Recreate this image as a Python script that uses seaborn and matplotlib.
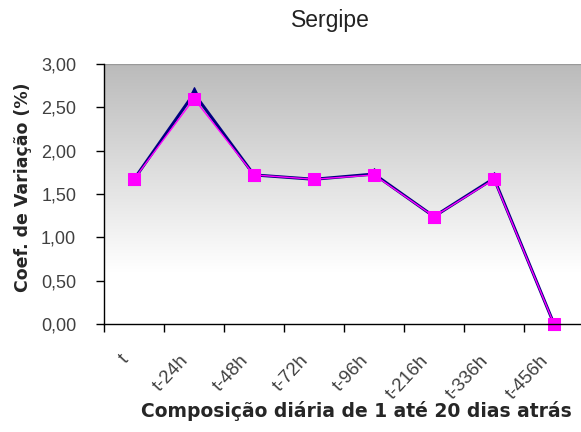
import numpy as np
import pandas as pd
import matplotlib.pyplot as plt
import seaborn as sns
from matplotlib.colors import LinearSegmentedColormap
from matplotlib.ticker import FuncFormatter, FixedLocator

# data
categorias = ['t', 't-24h', 't-48h', 't-72h', 't-96h', 't-216h', 't-336h', 't-456h']
serie_azul = [1.67, 2.66, 1.72, 1.67, 1.73, 1.24, 1.68, 0.00]
serie_rosa = [1.67, 2.60, 1.72, 1.67, 1.72, 1.24, 1.67, 0.00]

df = pd.DataFrame({
    'cat': list(range(len(categorias))) * 2,
    'cv': serie_azul + serie_rosa,
    'serie': ['azul'] * len(categorias) + ['rosa'] * len(categorias),
})

sns.set_style('white')
plt.rcParams['font.family'] = ['Liberation Sans', 'DejaVu Sans']

fig = plt.figure(figsize=(5.81, 4.32), dpi=100)
ax = fig.add_axes([104 / 581, 1 - 324 / 432, 480 / 581, 260 / 432])

# gray-to-white gradient like the excel plot area
grad = np.linspace(0, 1, 256).reshape(-1, 1)
cmap = LinearSegmentedColormap.from_list('g', [(0, '#bbbbbb'), (0.8, '#ffffff'), (1, '#ffffff')])
ax.imshow(grad, cmap=cmap, extent=[0, 1, 0, 1], transform=ax.transAxes,
          aspect='auto', origin='upper', zorder=0)

sns.lineplot(data=df[df.serie == 'azul'], x='cat', y='cv', ax=ax, color='#000080',
             marker='^', markersize=8, markeredgecolor='#000080', linewidth=2.2, zorder=3)
sns.lineplot(data=df[df.serie == 'rosa'], x='cat', y='cv', ax=ax, color='#ff00ff',
             marker='s', markersize=8, markeredgecolor='#ff00ff', linewidth=1.0, zorder=4)
for ln in ax.lines:
    ln.set_clip_on(False)

ax.set_xlim(-0.5, 7.5)
ax.set_ylim(0, 3)
ax.set_yticks(np.arange(0, 3.01, 0.5))
ax.yaxis.set_major_formatter(FuncFormatter(lambda v, p: f'{v:.2f}'.replace('.', ',')))
ax.xaxis.set_major_locator(FixedLocator(np.arange(-0.5, 7.6, 1)))
ax.set_xticklabels([])
for i, c in enumerate(categorias):
    ax.text(i - 0.24, -0.32, c, rotation=47, ha='right', va='top',
            rotation_mode='anchor', fontsize=13.5, color='#404040')

ax.tick_params(axis='both', direction='out', length=6, width=1, color='black',
               bottom=True, left=True, labelsize=13, labelcolor='#404040')
ax.tick_params(axis='y', pad=14)
for side in ['top', 'right']:
    ax.spines[side].set_visible(False)
for side in ['left', 'bottom']:
    ax.spines[side].set_color('black')
    ax.spines[side].set_linewidth(1)
    ax.spines[side].set_zorder(5)
ax.axhline(3, color='#999999', linewidth=1, zorder=2)
ax.set_xlabel('')
ax.set_ylabel('')

fig.text(330 / 581, 1 - 20 / 432, 'Sergipe', fontsize=16.5, ha='center', va='center',
         color='#222222')
fig.text(23 / 581, 1 - 187 / 432, 'Coef. de Variação (%)', rotation=90, ha='center',
         va='center', fontsize=12.5, fontweight='bold', family=['DejaVu Sans'])
fig.text(356 / 581, 1 - 411 / 432, 'Composição diária de 1 até 20 dias atrás',
         ha='center', va='center', fontsize=13.5, fontweight='bold', family=['DejaVu Sans'])

fig.savefig('out.png', dpi=100)
